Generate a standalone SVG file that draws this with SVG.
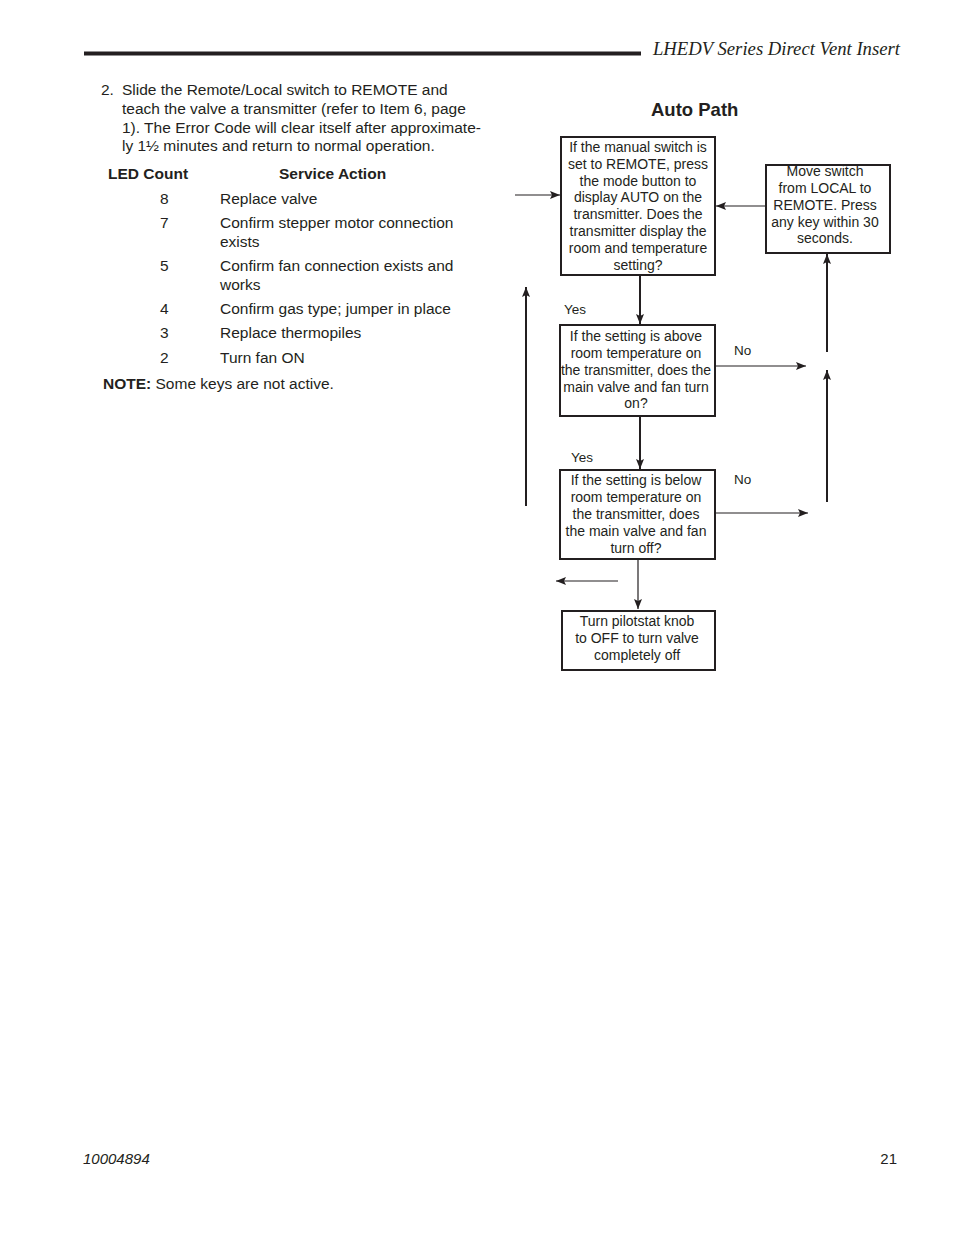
<svg xmlns="http://www.w3.org/2000/svg" width="954" height="1235" viewBox="0 0 954 1235">
<defs>
<marker id="ah" viewBox="0 0 10 8" refX="10" refY="4" markerWidth="10" markerHeight="8" markerUnits="userSpaceOnUse" orient="auto">
<path d="M0,0 L10,4 L0,8 L2,4 Z" fill="#231f20"/>
</marker>
</defs>
<style>
text{font-family:"Liberation Sans",Arial,sans-serif;fill:#231f20}
.b{font-size:15.5px}
.bold{font-weight:bold}
.n{font-size:14px;text-anchor:middle}
.lbl{font-size:13.5px}
.box{fill:#fff;stroke:#231f20;stroke-width:2}
.thin{stroke:#231f20;stroke-width:1.2;fill:none}
.thick{stroke:#231f20;stroke-width:2;fill:none}
</style>
<rect width="954" height="1235" fill="#fff"/>
<line x1="84" y1="53.5" x2="641" y2="53.5" stroke="#231f20" stroke-width="4"/>
<text x="900" y="55" text-anchor="end" style="font-family:'Liberation Serif',serif;font-style:italic;font-size:18.7px">LHEDV Series Direct Vent Insert</text>

<g id="body-text">
<text x="101" y="95" class="b">2.</text>
<text x="122" y="95" class="b">Slide the Remote/Local switch to REMOTE and</text>
<text x="122" y="114" class="b">teach the valve a transmitter (refer to Item 6, page</text>
<text x="122" y="133" class="b">1). The Error Code will clear itself after approximate-</text>
<text x="122" y="151" class="b">ly 1½ minutes and return to normal operation.</text>
<text x="108" y="179" class="b bold">LED Count</text>
<text x="279" y="179" class="b bold">Service Action</text>
<text x="160" y="204" class="b">8</text><text x="220" y="204" class="b">Replace valve</text>
<text x="160" y="228" class="b">7</text><text x="220" y="228" class="b">Confirm stepper motor connection</text>
<text x="220" y="247" class="b">exists</text>
<text x="160" y="271" class="b">5</text><text x="220" y="271" class="b">Confirm fan connection exists and</text>
<text x="220" y="290" class="b">works</text>
<text x="160" y="314" class="b">4</text><text x="220" y="314" class="b">Confirm gas type; jumper in place</text>
<text x="160" y="338" class="b">3</text><text x="220" y="338" class="b">Replace thermopiles</text>
<text x="160" y="363" class="b">2</text><text x="220" y="363" class="b">Turn fan ON</text>
<text x="103" y="389" class="b"><tspan class="bold">NOTE:</tspan> Some keys are not active.</text>
</g>

<text x="651" y="116" style="font-size:18.5px;font-weight:bold">Auto Path</text>

<g id="connectors">
<line class="thin" x1="515" y1="195" x2="560" y2="195" marker-end="url(#ah)"/>
<line class="thin" x1="766" y1="206" x2="716" y2="206" marker-end="url(#ah)"/>
<line class="thick" x1="640" y1="276" x2="640" y2="324" marker-end="url(#ah)"/>
<line class="thin" x1="715" y1="366" x2="806" y2="366" marker-end="url(#ah)"/>
<line class="thick" x1="827" y1="352" x2="827" y2="254" marker-end="url(#ah)"/>
<line class="thick" x1="827" y1="502" x2="827" y2="370" marker-end="url(#ah)"/>
<line class="thick" x1="526" y1="506" x2="526" y2="287" marker-end="url(#ah)"/>
<line class="thick" x1="640" y1="417" x2="640" y2="469" marker-end="url(#ah)"/>
<line class="thin" x1="715" y1="513" x2="808" y2="513" marker-end="url(#ah)"/>
<line class="thin" x1="638" y1="560" x2="638" y2="609" marker-end="url(#ah)"/>
<line class="thin" x1="618" y1="581" x2="556" y2="581" marker-end="url(#ah)"/>
<text x="564" y="314" class="lbl">Yes</text>
<text x="734" y="355" class="lbl">No</text>
<text x="571" y="462" class="lbl">Yes</text>
<text x="734" y="484" class="lbl">No</text>
</g>

<g id="n1">
<rect class="box" x="561" y="137" width="154" height="138"/>
<text class="n" x="638" y="152">If the manual switch is</text>
<text class="n" x="638" y="168.8">set to REMOTE, press</text>
<text class="n" x="638" y="185.6">the mode button to</text>
<text class="n" x="638" y="202.4">display AUTO on the</text>
<text class="n" x="638" y="219.2">transmitter. Does the</text>
<text class="n" x="638" y="236">transmitter display the</text>
<text class="n" x="638" y="252.8">room and temperature</text>
<text class="n" x="638" y="269.6">setting?</text>
</g>

<g id="n2">
<rect class="box" x="766" y="165" width="124" height="88"/>
<text class="n" x="825" y="176">Move switch</text>
<text class="n" x="825" y="193">from LOCAL to</text>
<text class="n" x="825" y="209.5">REMOTE. Press</text>
<text class="n" x="825" y="226.5">any key within 30</text>
<text class="n" x="825" y="243">seconds.</text>
</g>

<g id="n3">
<rect class="box" x="560" y="325" width="155" height="91"/>
<text class="n" x="636" y="341">If the setting is above</text>
<text class="n" x="636" y="358">room temperature on</text>
<text class="n" x="636" y="374.5">the transmitter, does the</text>
<text class="n" x="636" y="391.5">main valve and fan turn</text>
<text class="n" x="636" y="408">on?</text>
</g>

<g id="n4">
<rect class="box" x="560" y="470" width="155" height="89"/>
<text class="n" x="636" y="485">If the setting is below</text>
<text class="n" x="636" y="502">room temperature on</text>
<text class="n" x="636" y="519">the transmitter, does</text>
<text class="n" x="636" y="536">the main valve and fan</text>
<text class="n" x="636" y="553">turn off?</text>
</g>

<g id="n5">
<rect class="box" x="562" y="611" width="153" height="59"/>
<text class="n" x="637" y="626">Turn pilotstat knob</text>
<text class="n" x="637" y="643">to OFF to turn valve</text>
<text class="n" x="637" y="660">completely off</text>
</g>

<text x="83" y="1164" style="font-size:15px;font-style:italic">10004894</text>
<text x="897" y="1164" text-anchor="end" style="font-size:15px">21</text>
</svg>
